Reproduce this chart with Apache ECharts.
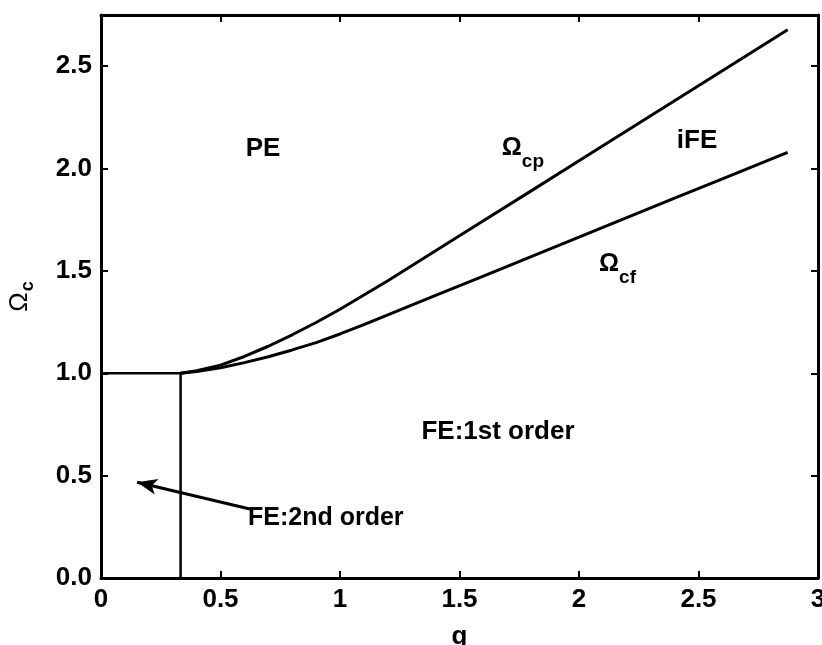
<!DOCTYPE html>
<html>
<head>
<meta charset="utf-8">
<title>Phase diagram</title>
<script src="https://cdn.jsdelivr.net/npm/echarts@6/dist/echarts.min.js"></script>
<style>
  html, body { margin: 0; padding: 0; background: #fff; }
  #chart { width: 822px; height: 645px; }
</style>
</head>
<body>
<div id="chart"></div>
<script>
// Coupling strength g on the horizontal axis
const gValues = [0.333, 0.4, 0.5, 0.6, 0.7, 0.8, 0.9, 1.0, 1.1, 1.2, 1.4, 1.6, 1.8, 2.0, 2.2, 2.4, 2.6, 2.873];
// Upper critical frequency (PE / iFE boundary)
const omegaCp = [1.000, 1.012, 1.040, 1.082, 1.132, 1.188, 1.248, 1.313, 1.382, 1.452, 1.598, 1.745, 1.891, 2.038, 2.185, 2.331, 2.478, 2.678];
// Lower critical frequency (iFE / FE boundary)
const omegaCf = [1.000, 1.009, 1.027, 1.052, 1.081, 1.114, 1.150, 1.192, 1.238, 1.285, 1.380, 1.475, 1.570, 1.665, 1.760, 1.855, 1.950, 2.079];
// Second-order boundary: Omega_c = 1 for g < g_c, and the line g = g_c
const boundaryG = [0, 0.333, 0.333];
const boundaryOmega = [1, 1, 0];
// Axis ticks
const xTicks = [0, 0.5, 1, 1.5, 2, 2.5, 3];
const yTicks = [0.0, 0.5, 1.0, 1.5, 2.0, 2.5];
// Region labels: [text, g, Omega]
const regionLabels = [
  ['PE', 0.678, 2.098],
  ['iFE', 2.494, 2.137],
  ['FE:1st order', 1.661, 0.712]
];
const secondOrderLabel = ['FE:2nd order', 0.615, 0.293];
// Curve labels: [subscript, g, Omega] positioned at the Omega glyph centre
const curveLabels = [
  ['cp', 1.719, 2.098],
  ['cf', 2.126, 1.532]
];
// Arrow from the second-order label to the g < g_c region
const arrowFrom = [0.623, 0.337];
const arrowTo = [0.151, 0.468];

const FONT = '"Liberation Sans", Arial, Helvetica, sans-serif';
const X_MIN = xTicks[0], X_MAX = xTicks[xTicks.length - 1];
const Y_MIN = yTicks[0], Y_MAX = 2.75;

const chart = echarts.init(document.getElementById('chart'), null, { renderer: 'canvas' });

const axisLine = { show: true, onZero: false, lineStyle: { color: '#000', width: 3 } };
const axisTick = { show: true, inside: true, length: 7, lineStyle: { color: '#000', width: 2 } };

const pairs = (xs, ys) => xs.map((x, i) => [x, ys[i]]);

const option = {
  backgroundColor: '#fff',
  animation: false,
  grid: { left: 101, top: 15, right: 4, bottom: 67, containLabel: false, outerBoundsMode: 'none' },
  xAxis: [
    {
      type: 'value', min: X_MIN, max: X_MAX, interval: 0.5, position: 'bottom',
      axisLine, axisTick, splitLine: { show: false },
      axisLabel: {
        margin: 9, color: '#000', fontSize: 26, fontWeight: 'bold', fontFamily: FONT,
        formatter: v => xTicks.includes(v) ? String(v) : ''
      },
      name: 'g', nameLocation: 'middle', nameGap: 46,
      nameTextStyle: { color: '#000', fontSize: 26, fontWeight: 'bold', fontFamily: FONT }
    },
    {
      type: 'value', min: X_MIN, max: X_MAX, interval: 0.5, position: 'top',
      axisLine, axisTick, axisLabel: { show: false }, splitLine: { show: false }
    }
  ],
  yAxis: [
    {
      type: 'value', min: Y_MIN, max: Y_MAX, interval: 0.5, position: 'left',
      axisLine, axisTick, splitLine: { show: false },
      axisLabel: {
        margin: 9, color: '#000', fontSize: 26, fontWeight: 'bold', fontFamily: FONT,
        formatter: v => yTicks.some(t => Math.abs(t - v) < 1e-9) ? v.toFixed(1) : '',
        showMaxLabel: false
      },
      name: '{o|Ω}{s|c}', nameLocation: 'middle', nameGap: 64, nameRotate: 90,
      nameTextStyle: {
        color: '#000', fontFamily: FONT,
        rich: {
          o: { fontSize: 26, fontFamily: FONT, color: '#000', verticalAlign: 'top', lineHeight: 30 },
          s: { fontSize: 18, fontWeight: 'bold', fontFamily: FONT, color: '#000', verticalAlign: 'bottom', lineHeight: 30, padding: [14, 0, 0, 1] }
        }
      }
    },
    {
      type: 'value', min: Y_MIN, max: Y_MAX, interval: 0.5, position: 'right',
      axisLine, axisTick, axisLabel: { show: false }, splitLine: { show: false }
    }
  ],
  series: [
    {
      name: 'Omega_cp', type: 'line', data: pairs(gValues, omegaCp),
      showSymbol: false, smooth: false, lineStyle: { color: '#000', width: 3, join: 'round' }, z: 3
    },
    {
      name: 'Omega_cf', type: 'line', data: pairs(gValues, omegaCf),
      showSymbol: false, smooth: false, lineStyle: { color: '#000', width: 3, join: 'round' }, z: 3
    },
    {
      name: 'boundary', type: 'line', data: pairs(boundaryG, boundaryOmega),
      showSymbol: false, lineStyle: { color: '#000', width: 2.5 }, z: 3,
      markLine: {
        silent: true, animation: false,
        symbol: ['none', 'arrow'], symbolSize: [12, 20],
        label: { show: false },
        lineStyle: { color: '#000', width: 3, type: 'solid' },
        data: [[{ coord: arrowFrom }, { coord: arrowTo }]]
      }
    }
  ]
};

chart.setOption(option);

// Text annotations placed in data coordinates
const graphics = [];
const textBase = { fill: '#000', fontFamily: FONT, fontWeight: 'bold', fontSize: 26 };
regionLabels.forEach(([text, g, w]) => {
  const [px, py] = chart.convertToPixel({ gridIndex: 0 }, [g, w]);
  graphics.push({
    type: 'text', x: px, y: py, z: 10,
    style: Object.assign({ text, align: 'center', verticalAlign: 'middle' }, textBase)
  });
});
{
  const [text, g, w] = secondOrderLabel;
  const [px, py] = chart.convertToPixel({ gridIndex: 0 }, [g, w]);
  graphics.push({
    type: 'text', x: px, y: py, z: 10,
    style: Object.assign({ text, align: 'left', verticalAlign: 'middle' }, textBase, { fontSize: 25 })
  });
}
curveLabels.forEach(([sub, g, w]) => {
  const [px, py] = chart.convertToPixel({ gridIndex: 0 }, [g, w]);
  graphics.push({
    type: 'text', x: px, y: py, z: 10,
    style: { text: 'Ω', fill: '#000', fontFamily: FONT, fontWeight: 'bold', fontSize: 25, align: 'center', verticalAlign: 'middle' }
  });
  graphics.push({
    type: 'text', x: px + 10, y: py + 13, z: 10,
    style: { text: sub, fill: '#000', fontFamily: FONT, fontWeight: 'bold', fontSize: 19, align: 'left', verticalAlign: 'middle' }
  });
});
chart.setOption({ graphic: graphics });
</script>
</body>
</html>
